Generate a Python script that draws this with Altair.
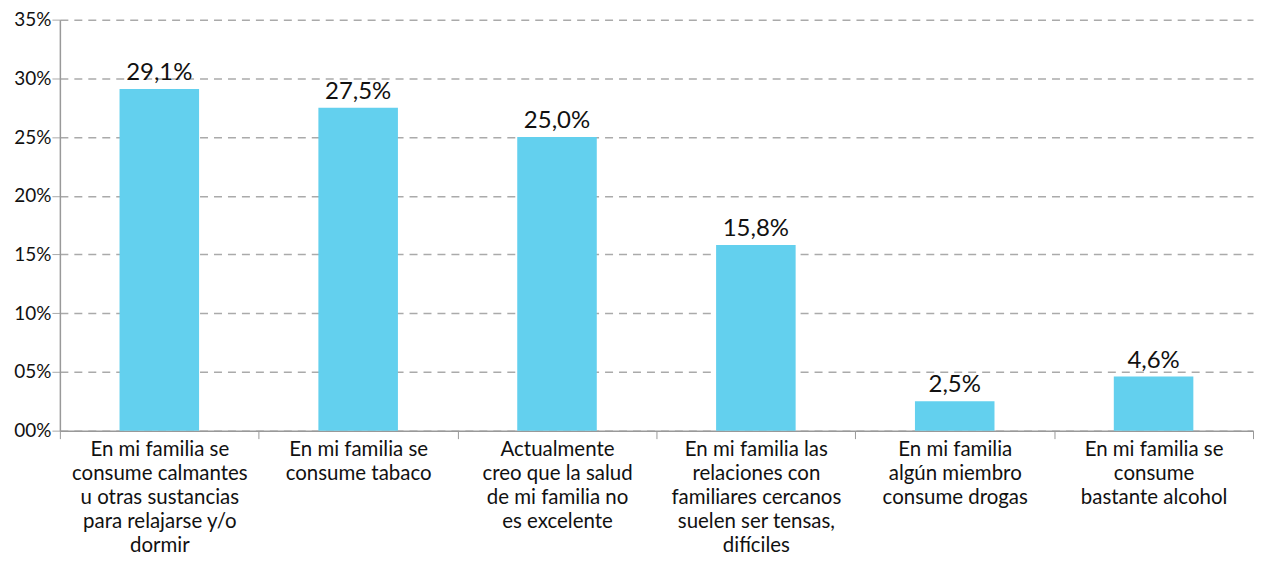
import altair as alt
import pandas as pd

categories = [
    "En mi familia se|consume calmantes|u otras sustancias|para relajarse y/o|dormir",
    "En mi familia se|consume tabaco",
    "Actualmente|creo que la salud|de mi familia no|es excelente",
    "En mi familia las|relaciones con|familiares cercanos|suelen ser tensas,|difíciles",
    "En mi familia|algún miembro|consume drogas",
    "En mi familia se|consume|bastante alcohol",
]
values = [29.1, 27.5, 25.0, 15.8, 2.5, 4.6]
value_labels = ["29,1%", "27,5%", "25,0%", "15,8%", "2,5%", "4,6%"]

df = pd.DataFrame({"cat": categories, "val": values, "lab": value_labels})

FONT = "Lato"

x = alt.X("cat:N", sort=categories, title=None,
          scale=alt.Scale(paddingInner=0, paddingOuter=0),
          axis=alt.Axis(labelExpr="split(datum.label, '|')", labelAngle=0,
                        labelFontSize=20.5, labelFont=FONT, labelColor="#111",
                        labelLineHeight=24, labelPadding=1, labelLimit=260,
                        tickBand="extent", tickColor="#999", tickSize=8,
                        domainColor="#999", domainWidth=1.5, labelBaseline="top"))

bars = alt.Chart(df).mark_bar(color="#63d0ee", width={"band": 0.4}).encode(
    x=x,
    y=alt.Y("val:Q", title=None,
            scale=alt.Scale(domain=[0, 35]),
            axis=alt.Axis(values=[0, 5, 10, 15, 20, 25, 30, 35],
                          labelExpr="(datum.value < 10 ? '0' : '') + datum.value + '%'",
                          labelFontSize=19, labelFont=FONT, labelColor="#111",
                          grid=True, gridDash=[8, 6], gridColor="#aaa", gridWidth=1.5,
                          tickColor="#aaa", tickSize=8, tickDash=[8, 6],
                          domainColor="#999", domainWidth=1.5, labelPadding=1)),
)

text = alt.Chart(df).mark_text(dy=-9, baseline="alphabetic", fontSize=24, font=FONT,
                               color="#111").encode(
    x=alt.X("cat:N", sort=categories),
    y="val:Q",
    text="lab:N",
)

chart = (bars + text).properties(
    width=1196, height=412,
    padding={"left": 5, "top": 2, "right": 0, "bottom": 0},
).configure_view(stroke=None)
chart.save("out.html", embed_options={"renderer": "svg", "actions": False})
